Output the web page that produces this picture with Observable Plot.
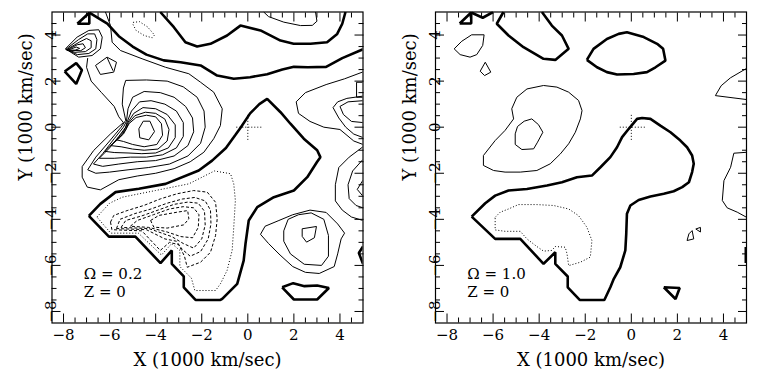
<!DOCTYPE html>
<html><head><meta charset="utf-8">
<script src="https://cdn.jsdelivr.net/npm/d3@7"></script>
<script src="https://cdn.jsdelivr.net/npm/@observablehq/plot@0.6"></script>
<style>
html,body{margin:0;padding:0;background:#fff;}
#wrap{display:flex;width:758px;height:379px;}
svg text{font-family:"DejaVu Serif",serif;}
</style></head><body><div id="wrap"></div>
<script>
// ---------- axis ticks ----------
const majorTicks = [-8, -6, -4, -2, 0, 2, 4];
const minorTicks = [-7.5, -7, -6.5, -5.5, -5, -4.5, -3.5, -3, -2.5, -1.5, -1, -0.5, 0.5, 1, 1.5, 2.5, 3, 3.5, 4.5];
const xDomain = [-8.5, 5];
const yDomain = [-8.5, 5];
const xTitle = "X (1000 km/sec)";
const yTitle = "Y (1000 km/sec)";

// ---------- centre cross (dotted) ----------
const cross = [[[-0.5, 0], [0.62, 0]], [[0, -0.55], [0, 0.55]]];

// ---------- LEFT panel (Omega = 0.2) ----------
const leftLabels = [{x: -7.12, y: -6.6, t: "Ω = 0.2"}, {x: -7.12, y: -7.38, t: "Z = 0"}];

const leftThick = [
  [[-3.8,5],[-3.21,4.34],[-2.71,3.69],[-2.2,3.5],[-1.62,3.62],[-0.9,3.98],[-0.32,4.41],[0.55,4.2],[1.42,3.76],[1.99,3.62],[2.72,3.62],[3.44,3.69],[3.88,4.05],[4.1,4.49],[4.24,5]],
  [[-6.88,4.97],[-6.1,4.5],[-5.6,3.95],[-5.0,3.5],[-4.4,3.15],[-3.65,2.9],[-2.92,2.82],[-2.05,2.68],[-1.33,2.24],[-0.61,2.1],[0.1,2.17],[0.84,2.3],[1.5,2.5],[2.0,2.62],[2.6,2.6],[3.4,2.62],[4.1,3.0],[5,3.38]],
  [[-6.9,-3.85],[-6.4,-3.33],[-5.74,-2.82],[-4.73,-2.67],[-3.57,-2.46],[-2.13,-1.88],[-1.55,-1.45],[-0.95,-0.9],[-0.55,-0.35],[-0.3,0.0],[0.1,0.6],[0.5,1.0],[0.84,1.23],[1.42,0.65],[1.85,0.15],[2.43,-0.5],[3.01,-1.0],[3.15,-1.3],[3.01,-1.5],[2.58,-2.17],[2.0,-2.75],[1.13,-3.04],[0.41,-3.47],[0.04,-4.05],[-0.1,-5.06],[-0.18,-5.79],[-0.46,-6.8],[-1.11,-7.45],[-1.19,-7.5],[-2.27,-7.5],[-2.78,-6.95],[-2.78,-6.48],[-3.3,-5.93],[-3.3,-5.35],[-3.79,-5.9],[-4.88,-4.75],[-6.03,-4.75],[-6.9,-3.85]],
  [[-7.4,4.49],[-6.88,4.97],[-6.88,4.49],[-7.4,4.49]],
  [[-7.95,2.42],[-7.45,2.78],[-7.2,2.48],[-7.45,1.88],[-7.95,2.42]],
  [[1.49,-6.95],[1.97,-6.77],[2.46,-6.9],[3.01,-6.87],[3.52,-6.98],[3.01,-7.48],[2.0,-7.48],[1.49,-6.95]],
  [[5,-5.18],[4.82,-5.46],[5,-5.93]]
];

const leftThin = [
  [[0.69,5],[0.9,4.8],[1.56,4.56],[2.29,4.41],[2.8,4.42],[3.0,4.6],[2.94,5]],
  [[-6.18,5],[-5.96,4.41],[-5.89,3.69],[-5.53,3.33],[-4.59,2.97],[-3.57,2.6],[-2.56,2.32],[-2.05,1.95],[-1.48,1.52],[-1.11,0.8],[-1.19,0.07],[-1.48,-0.5],[-1.91,-1.09],[-2.5,-1.5],[-3.2,-1.8],[-4.0,-2.0],[-4.8,-2.12],[-5.6,-2.28],[-6.4,-2.72],[-6.97,-2.6],[-7.19,-2.17],[-7.19,-1.71],[-6.69,-1.01],[-5.96,-0.29],[-5.4,0.2],[-5.6,0.45],[-5.8,0.9],[-6.35,1.5],[-6.8,2.0],[-7.0,2.6],[-6.95,3.0]],
  [[-5.3,0.3],[-5.45,1.0],[-5.4,1.7],[-5.3,2.03],[-4.4,2.05],[-3.5,2.0],[-2.8,1.75],[-2.2,1.3],[-1.9,0.7],[-1.85,0.0],[-2.05,-0.7],[-2.6,-1.25],[-3.4,-1.6],[-4.3,-1.75],[-5.2,-1.85],[-6.0,-1.95],[-6.6,-2.0],[-6.95,-1.85],[-6.6,-1.3],[-6.0,-0.6],[-5.5,0.0],[-5.3,0.3]],
  [[-5.27,0.25],[-5.2,0.8],[-5.0,1.3],[-4.5,1.55],[-3.8,1.5],[-3.2,1.3],[-2.7,0.9],[-2.4,0.4],[-2.35,-0.2],[-2.6,-0.8],[-3.2,-1.25],[-4.0,-1.45],[-4.8,-1.5],[-5.6,-1.6],[-6.3,-1.7],[-6.7,-1.6],[-6.3,-1.15],[-5.8,-0.5],[-5.4,0.0],[-5.27,0.25]],
  [[-5.24,0.22],[-5.05,0.7],[-4.7,1.1],[-4.2,1.15],[-3.6,1.0],[-3.1,0.7],[-2.8,0.2],[-2.8,-0.4],[-3.1,-0.9],[-3.7,-1.2],[-4.4,-1.3],[-5.1,-1.3],[-5.8,-1.35],[-6.45,-1.35],[-6.0,-0.9],[-5.6,-0.4],[-5.3,0.0],[-5.24,0.22]],
  [[-5.21,0.2],[-4.95,0.6],[-4.55,0.85],[-4.0,0.8],[-3.5,0.55],[-3.15,0.1],[-3.15,-0.45],[-3.45,-0.9],[-4.0,-1.12],[-4.6,-1.15],[-5.2,-1.12],[-5.8,-1.1],[-6.2,-1.05],[-5.75,-0.6],[-5.4,-0.2],[-5.21,0.2]],
  [[-5.18,0.18],[-4.9,0.5],[-4.45,0.65],[-4.0,0.6],[-3.6,0.35],[-3.42,-0.1],[-3.5,-0.6],[-3.9,-0.95],[-4.5,-1.0],[-5.0,-0.95],[-5.5,-0.85],[-5.95,-0.8],[-5.55,-0.45],[-5.3,-0.1],[-5.18,0.18]],
  [[-5.15,0.16],[-4.85,0.42],[-4.4,0.52],[-4.0,0.45],[-3.75,0.15],[-3.7,-0.35],[-3.95,-0.75],[-4.5,-0.85],[-5.0,-0.75],[-5.4,-0.62],[-5.7,-0.55],[-5.4,-0.3],[-5.15,0.16]],
  [[-4.73,-0.07],[-4.54,0.26],[-4.25,0.26],[-4.05,-0.19],[-4.3,-0.55],[-4.69,-0.46],[-4.73,-0.07]],
  [[-7.92,3.4],[-7.41,3.91],[-6.9,4.2],[-6.47,4.23],[-6.32,3.91],[-6.4,3.4],[-6.76,3.11],[-7.34,3.04],[-7.92,3.4]],
  [[-7.9,3.38],[-7.35,3.8],[-6.95,4.05],[-6.65,4.05],[-6.55,3.8],[-6.6,3.4],[-6.9,3.2],[-7.4,3.15],[-7.9,3.38]],
  [[-7.88,3.36],[-7.3,3.7],[-7.0,3.85],[-6.8,3.75],[-6.8,3.45],[-7.05,3.28],[-7.5,3.25],[-7.88,3.36]],
  [[-7.85,3.35],[-7.4,3.58],[-7.15,3.62],[-7.05,3.45],[-7.25,3.32],[-7.85,3.35]],
  [[-7.82,3.34],[-7.45,3.48],[-7.3,3.42],[-7.5,3.34],[-7.82,3.34]],
  [[-6.61,2.68],[-6.11,3.04],[-5.7,2.82],[-5.82,2.39],[-6.4,2.29],[-6.61,2.68]],
  [[-6.1,3.0],[-5.85,2.45]],
  [[0.55,-4.65],[0.75,-4.3],[1.35,-4.05],[1.95,-3.8],[2.7,-3.6],[3.4,-3.7],[3.9,-4.2],[4.2,-4.6],[4.05,-4.85],[3.9,-5.5],[3.75,-6.05],[3.1,-6.35],[2.5,-6.3],[1.95,-6.05],[1.4,-5.55],[0.9,-5.05],[0.55,-4.65]],
  [[1.56,-4.5],[1.75,-4.0],[2.2,-3.8],[2.75,-3.72],[3.3,-4.0],[3.5,-4.7],[3.5,-5.6],[3.2,-6.0],[2.45,-5.95],[1.85,-5.5],[1.56,-4.95],[1.56,-4.5]],
  [[2.36,-4.41],[2.98,-4.31],[2.89,-4.8],[2.55,-4.99],[2.36,-4.74],[2.36,-4.41]],
  [[5,2.4],[4.2,2.1],[3.4,1.85],[2.5,1.5],[2.1,1.1],[2.2,0.6],[2.7,0.25],[3.3,0.0],[4.0,-0.1],[4.6,-0.6],[5,-0.75]],
  [[5,1.35],[4.3,1.25],[3.9,1.1],[3.7,0.85],[3.95,0.4],[4.25,0.0],[4.6,-0.3],[5,-0.45]],
  [[5,1.15],[4.35,1.1],[4.0,0.9],[4.15,0.55],[4.5,0.25],[5,0.2]],
  [[5,1.95],[4.72,1.95],[4.72,1.3],[5,1.3]],
  [[5,-0.85],[4.4,-1.3],[3.95,-1.75],[3.8,-2.5],[3.8,-3.2],[4.1,-3.6],[4.5,-3.9],[5,-4.05]],
  [[5,-1.4],[4.55,-1.9],[4.35,-2.5],[4.4,-3.1],[4.7,-3.4],[5,-3.5]],
  [[5,-2.3],[4.75,-2.7],[5,-3.0]]
];

const leftDotted = [
  [[-4.98,4.55],[-4.7,4.58],[-4.35,4.35],[-4.05,4.0],[-4.15,3.88],[-4.5,3.98],[-4.85,4.2],[-4.98,4.45],[-4.98,4.55]],
  [[-6.55,-3.9],[-6.0,-3.3],[-5.45,-3.04],[-4.01,-2.75],[-2.56,-2.46],[-1.45,-1.9],[-0.75,-2.02],[-0.61,-2.46],[-0.54,-3.18],[-0.61,-4.34],[-0.68,-5.35],[-0.9,-6.22],[-1.19,-6.8],[-1.4,-7.09],[-2.3,-7.09],[-2.45,-6.55],[-2.95,-6.05],[-2.95,-5.35],[-3.3,-5.05],[-3.75,-5.55],[-4.75,-4.6],[-5.95,-4.6],[-6.55,-3.9]]
];

const leftDashed = [
  [[-5.96,-4.12],[-5.82,-3.83],[-5.24,-3.62],[-4.52,-3.4],[-3.79,-3.11],[-3.07,-2.89],[-2.35,-2.75],[-1.76,-2.82],[-1.4,-3.26],[-1.33,-3.98],[-1.4,-4.7],[-1.62,-5.43],[-2.05,-5.86],[-2.63,-6.08],[-2.75,-5.6],[-3.0,-5.1],[-3.4,-5.0],[-3.8,-5.35],[-4.6,-4.5],[-5.9,-4.45],[-5.96,-4.12]],
  [[-5.7,-4.4],[-5.55,-4.0],[-4.9,-3.75],[-4.2,-3.55],[-3.5,-3.3],[-2.85,-3.12],[-2.3,-3.05],[-1.85,-3.2],[-1.62,-3.6],[-1.6,-4.2],[-1.72,-4.85],[-2.05,-5.4],[-2.5,-5.6],[-2.85,-5.3],[-3.1,-4.95],[-3.6,-4.85],[-4.4,-4.45],[-5.7,-4.4]],
  [[-5.5,-4.35],[-5.3,-4.05],[-4.6,-3.85],[-3.9,-3.6],[-3.2,-3.35],[-2.6,-3.25],[-2.15,-3.3],[-1.88,-3.65],[-1.85,-4.25],[-2.0,-4.85],[-2.35,-5.25],[-2.8,-5.05],[-3.3,-4.75],[-4.3,-4.4],[-5.5,-4.35]],
  [[-5.1,-4.3],[-4.8,-4.05],[-4.1,-3.8],[-3.4,-3.55],[-2.8,-3.45],[-2.35,-3.5],[-2.12,-3.8],[-2.15,-4.35],[-2.4,-4.8],[-2.9,-4.75],[-3.5,-4.55],[-4.3,-4.35],[-5.1,-4.3]],
  [[-4.22,-4.05],[-3.86,-3.83],[-3.07,-3.69],[-2.61,-3.62],[-2.56,-3.98],[-2.78,-4.24],[-3.5,-4.38],[-4.08,-4.34],[-4.22,-4.05]]
];

// ---------- RIGHT panel (Omega = 1.0) ----------
const rightLabels = [{x: -7.12, y: -6.6, t: "Ω = 1.0"}, {x: -7.12, y: -7.38, t: "Z = 0"}];

const rightThick = [
  [[-6.93,-3.88],[-6.34,-3.3],[-5.91,-2.97],[-5.33,-2.75],[-4.53,-2.68],[-3.66,-2.53],[-3.01,-2.39],[-2.36,-2.17],[-1.71,-2.1],[-1.34,-1.74],[-0.91,-1.3],[-0.62,-0.87],[-0.4,-0.43],[-0.11,-0.07],[0.25,0.36],[0.47,0.4],[0.83,0.36],[1.26,0.07],[1.7,-0.22],[2.13,-0.58],[2.42,-0.87],[2.64,-1.23],[2.71,-1.59],[2.64,-1.95],[2.5,-2.39],[2.21,-2.6],[1.84,-2.78],[1.41,-2.89],[0.83,-3.01],[0.32,-3.16],[-0.04,-3.4],[-0.19,-3.76],[-0.22,-4.63],[-0.26,-5.35],[-0.48,-6.08],[-0.76,-6.58],[-0.91,-6.95],[-1.17,-7.5],[-2.24,-7.5],[-2.76,-6.95],[-2.76,-6.48],[-3.3,-5.93],[-3.3,-5.43],[-3.81,-5.93],[-4.82,-4.85],[-5.91,-4.85],[-6.93,-3.88]],
  [[-7.45,4.5],[-6.95,4.98],[-6.95,4.5],[-7.45,4.5]],
  [[-6.95,4.98],[-6.45,4.75],[-6.0,5.0]],
  [[-5.55,5],[-5.84,4.49],[-5.33,3.98],[-4.68,3.47],[-3.81,2.97],[-3.3,2.92],[-2.72,3.4],[-3.01,3.98],[-3.45,4.41],[-3.88,5]],
  [[-1.93,2.92],[-1.64,3.4],[-1.06,3.83],[-0.55,4.05],[-0.19,4.12],[0.54,3.91],[1.12,3.62],[1.38,3.4],[1.48,2.89],[1.05,2.6],[0.68,2.39],[0.1,2.31],[-0.62,2.29],[-1.06,2.39],[-1.49,2.6],[-1.93,2.92]],
  [[1.41,-6.95],[2.1,-6.98],[1.92,-7.46],[1.41,-6.95]],
  [[4.97,-5.2],[4.97,-5.9]]
];

const rightThin = [
  [[-6.42,-1.23],[-5.91,-0.58],[-5.48,-0.14],[-5.11,0.36],[-5.19,0.8],[-4.97,1.3],[-4.53,1.66],[-3.81,1.81],[-3.23,1.74],[-2.72,1.52],[-2.29,1.16],[-2.14,0.72],[-2.21,0.36],[-2.43,-0.22],[-2.72,-0.72],[-3.08,-1.16],[-3.52,-1.59],[-4.1,-1.88],[-4.82,-1.95],[-5.48,-1.95],[-5.98,-1.88],[-6.42,-1.66],[-6.42,-1.23]],
  [[-5.04,-0.29],[-4.94,0.03],[-4.65,0.26],[-4.32,0.36],[-4.03,0.11],[-3.84,-0.22],[-4.07,-0.65],[-4.24,-0.94],[-4.75,-0.97],[-5.04,-0.75],[-5.04,-0.29]],
  [[-7.69,3.4],[-7.36,3.73],[-6.93,4.01],[-6.39,4.01],[-6.45,3.55],[-6.71,3.15],[-7.0,3.04],[-7.43,3.15],[-7.69,3.4]],
  [[-6.56,2.43],[-6.34,2.82],[-6.1,2.39],[-6.37,2.24],[-6.56,2.43]],
  [[5,2.55],[4.3,2.14],[3.9,1.8],[3.65,1.37],[5,1.2]],
  [[5,-1.09],[4.45,-1.13],[4.31,-1.74],[4.02,-2.32],[3.95,-3.18],[4.16,-3.5],[4.6,-3.69],[5,-3.91]],
  [[2.42,-4.92],[2.5,-4.63],[2.64,-4.49],[2.71,-4.85],[2.42,-4.92]],
  [[2.8,-4.42],[3.0,-4.35],[3.0,-4.55],[2.8,-4.42]]
];

const rightDotted = [
  [[-5.91,-3.91],[-5.69,-3.69],[-5.33,-3.55],[-4.9,-3.36],[-4.1,-3.36],[-3.37,-3.4],[-2.72,-3.55],[-2.29,-3.84],[-1.93,-4.34],[-1.71,-4.92],[-1.78,-5.64],[-2.21,-5.86],[-2.72,-6.01],[-2.79,-5.5],[-2.87,-5.21],[-3.3,-5.18],[-3.45,-5.35],[-3.81,-5.38],[-4.1,-5.18],[-4.53,-4.85],[-4.82,-4.52],[-5.48,-4.52],[-5.91,-4.46],[-5.91,-3.91]]
];

// ---------- helpers ----------
function rows(lines, tag) {
  const out = [];
  lines.forEach((pts, i) => pts.forEach(([x, y]) => out.push({x, y, id: tag + i})));
  return out;
}

function panel(cfg) {
  const {thick, thin, dotted, dashed, labels, marginLeft, marginRight} = cfg;
  const common = {x: "x", y: "y", z: "id", stroke: "black", clip: true, strokeLinejoin: "miter", strokeLinecap: "butt"};
  return Plot.plot({
    width: 379, height: 379,
    marginLeft, marginRight, marginTop: 11.5, marginBottom: 56.5,
    x: {domain: xDomain, axis: null},
    y: {domain: yDomain, axis: null},
    style: {fontFamily: "DejaVu Serif, serif", background: "white", color: "black"},
    marks: [
      Plot.line(rows(thin, "t"), {...common, strokeWidth: 1}),
      Plot.line(rows(dashed, "d"), {...common, strokeWidth: 1, strokeDasharray: "3,2"}),
      Plot.line(rows(dotted, "o"), {...common, strokeWidth: 1, strokeDasharray: "1,2"}),
      Plot.line(rows(cross, "c"), {...common, strokeWidth: 1, strokeDasharray: "1,2"}),
      Plot.line(rows(thick, "k"), {...common, strokeWidth: 2.6}),
      Plot.frame({stroke: "black", strokeWidth: 1.2}),
      Plot.axisX(majorTicks, {anchor: "bottom", tickSize: -9, tickPadding: 15, fontSize: 15, label: null}),
      Plot.axisX(minorTicks, {anchor: "bottom", tickSize: -5, tickFormat: () => "", label: null}),
      Plot.axisX(majorTicks, {anchor: "top", tickSize: -9, tickFormat: () => "", label: null}),
      Plot.axisX(minorTicks, {anchor: "top", tickSize: -5, tickFormat: () => "", label: null}),
      Plot.axisY(majorTicks, {anchor: "left", tickSize: -9, tickPadding: 5, tickRotate: -90, textAnchor: "middle", lineAnchor: "bottom", fontSize: 15, label: null}),
      Plot.axisY(minorTicks, {anchor: "left", tickSize: -5, tickFormat: () => "", label: null}),
      Plot.axisY(majorTicks, {anchor: "right", tickSize: -9, tickFormat: () => "", label: null}),
      Plot.axisY(minorTicks, {anchor: "right", tickSize: -5, tickFormat: () => "", label: null}),
      Plot.text(labels, {x: "x", y: "y", text: "t", textAnchor: "start", lineAnchor: "bottom", fontSize: 15, letterSpacing: 2.2}),
      Plot.text([xTitle], {frameAnchor: "bottom", dy: 42.5, lineAnchor: "bottom", fontSize: 18, letterSpacing: 1.7}),
      Plot.text([yTitle], {frameAnchor: "left", dx: -20, dy: 13, rotate: -90, lineAnchor: "bottom", fontSize: 18, letterSpacing: 1.2})
    ]
  });
}

const wrap = document.getElementById("wrap");
wrap.append(panel({thick: leftThick, thin: leftThin, dotted: leftDotted, dashed: leftDashed, labels: leftLabels, marginLeft: 51.5, marginRight: 16.5}));
wrap.append(panel({thick: rightThick, thin: rightThin, dotted: rightDotted, dashed: [], labels: rightLabels, marginLeft: 56, marginRight: 12}));
</script></body></html>
